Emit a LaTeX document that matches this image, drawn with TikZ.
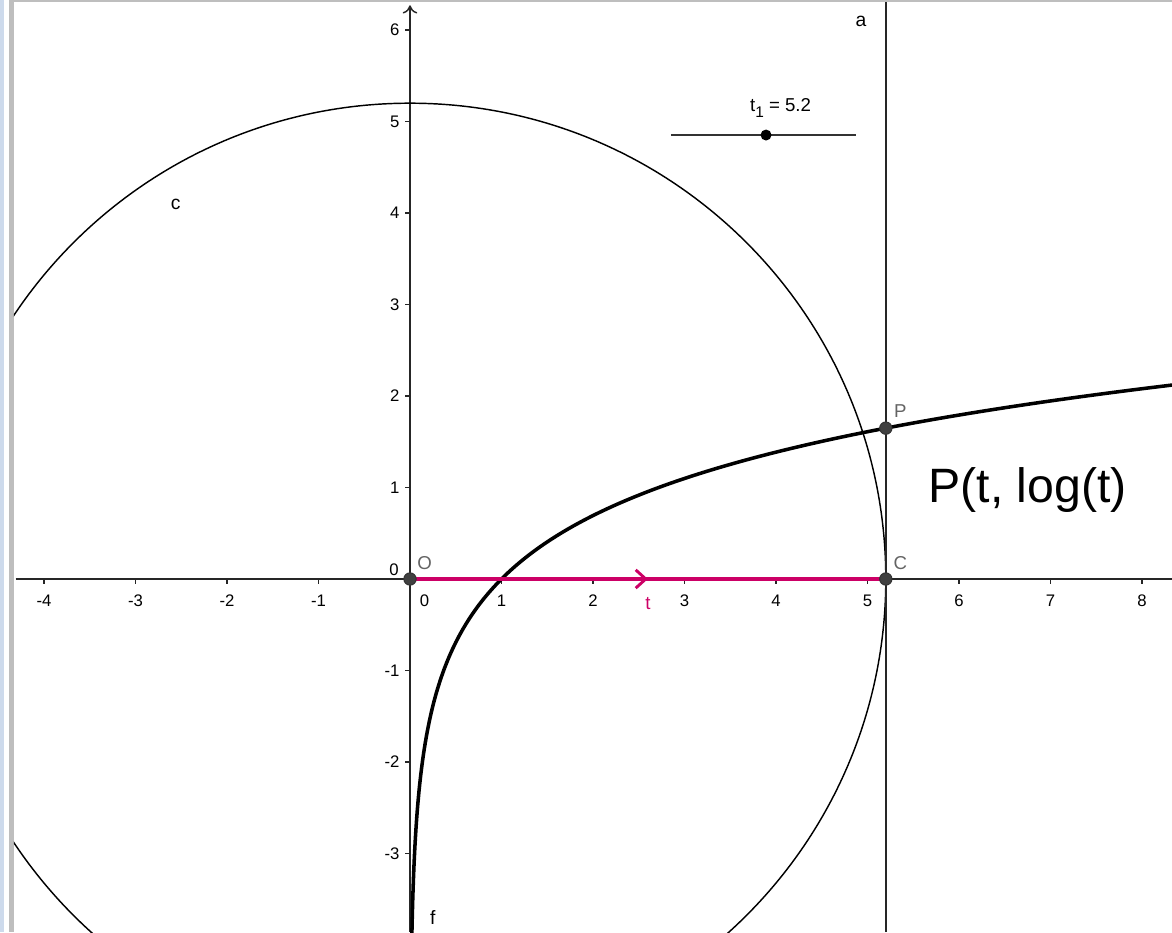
\documentclass[tikz,border=0pt]{standalone}
\usepackage{fontspec}
\setmainfont{Liberation Sans}
\usetikzlibrary{arrows.meta,decorations.markings}
\definecolor{ggpink}{RGB}{204,0,102}
\definecolor{ggpoint}{RGB}{64,64,64}
\definecolor{gglabel}{RGB}{100,100,100}
\definecolor{ggframe}{RGB}{190,190,190}
\definecolor{ggside}{RGB}{205,218,236}

\begin{document}
\begin{tikzpicture}[
  x=1cm, y=1cm,
  every node/.style={font=\fontsize{5.2}{6}\selectfont, inner sep=0.5pt},
  axis/.style={line width=0.45pt, black!85},
  tick/.style={line width=0.45pt, black!85},
  thin/.style={line width=0.45pt, black},
  curve/.style={line width=1.1pt, black},
  vec/.style={line width=1pt, ggpink, postaction={decorate},
    decoration={markings, mark=at position 0.5 with
      {\arrow{Straight Barb[length=1.1mm, width=2mm, line width=0.9pt]}}}},
  pt/.style={circle, fill=ggpoint, draw=black!80, line width=0.3pt, minimum size=1.35mm, inner sep=0pt},
  ptlab/.style={text=gglabel, font=\fontsize{5.8}{6}\selectfont},
  objlab/.style={font=\fontsize{6}{7}\selectfont},
]
\useasboundingbox (-4.4809,-3.8579) rectangle (8.3279,6.3279);
% window frame
\fill[ggside] (-4.4809,-3.8579) rectangle (-4.437,6.3279);
\fill[ggframe] (-4.385,-3.8579) rectangle (-4.328,6.3279);
\fill[ggframe] (-4.328,6.303) rectangle (8.3279,6.3279);

\begin{scope}
\clip (-4.328,-3.8579) rectangle (8.3279,6.303);
% axes
\draw[axis] (-4.31,0) -- (8.3279,0);
\draw[axis, -{To[length=0.9mm, width=1.6mm]}] (0,-3.8579) -- (0,6.27);
% x ticks
\foreach \i in {-4,...,-1,1,2,...,8} {
  \draw[tick] (\i,0) -- (\i,-0.06);
  \node (xl\i) at (\i,-0.24) {\i};
}
\node (xl0) at (0.16,-0.24) {0};
% y ticks
\foreach \j in {-3,...,-1,1,2,...,6} {
  \draw[tick] (0,\j) -- (-0.06,\j);
  \node[anchor=east] (yl\j) at (-0.09,\j) {\j};
}
\node[anchor=east] (yl0) at (-0.1,0.1) {0};
% circle c and line a
\draw[thin] (0,0) circle (5.2);
\draw[line width=0.65pt, black!85] (5.2,-3.8579) -- (5.2,6.303);
% graph of f
\draw[curve, domain=-3.87:2.13, samples=120, smooth] plot ({exp(\x)},\x);
\end{scope}

% points
\coordinate (O) at (0,0);
\coordinate (C) at (5.2,0);
\coordinate (P) at (5.2,{ln(5.2)});
\draw[vec] (O) -- (C);
\node[pt] (Odot) at (O) {};
\node[pt] (Cdot) at (C) {};
\node[pt] (Pdot) at (P) {};

% slider t_1
\coordinate (sa) at (2.852,4.852);
\coordinate (sb) at (4.874,4.852);
\draw[line width=0.5pt, black!80] (sa) -- (sb);
\node[circle, fill=black, minimum size=1.2mm, inner sep=0pt] (sdot) at (3.891,4.852) {};
\node[font=\fontsize{5.8}{7}\selectfont] (slab) at (4.05,5.15)
  {t\raisebox{-0.6ex}{\fontsize{4.8}{5}\selectfont 1} = 5.2};

% labels
\node[ptlab] (Olab) at (0.16,0.17) {O};
\node[ptlab] (Clab) at (5.36,0.17) {C};
\node[ptlab] (Plab) at (5.36,1.84) {P};
\node[objlab] (alab) at (4.93,6.09) {a};
\node[objlab] (clab) at (-2.56,4.09) {c};
\node[objlab] (flab) at (0.25,-3.70) {f};
\node[text=ggpink, font=\fontsize{5.8}{6}\selectfont] (tlab) at (2.60,-0.27) {t};
\node[font=\fontsize{15}{17}\selectfont] (Ptext) at (6.75,0.97) {P(t, log(t)};
\end{tikzpicture}
\end{document}
